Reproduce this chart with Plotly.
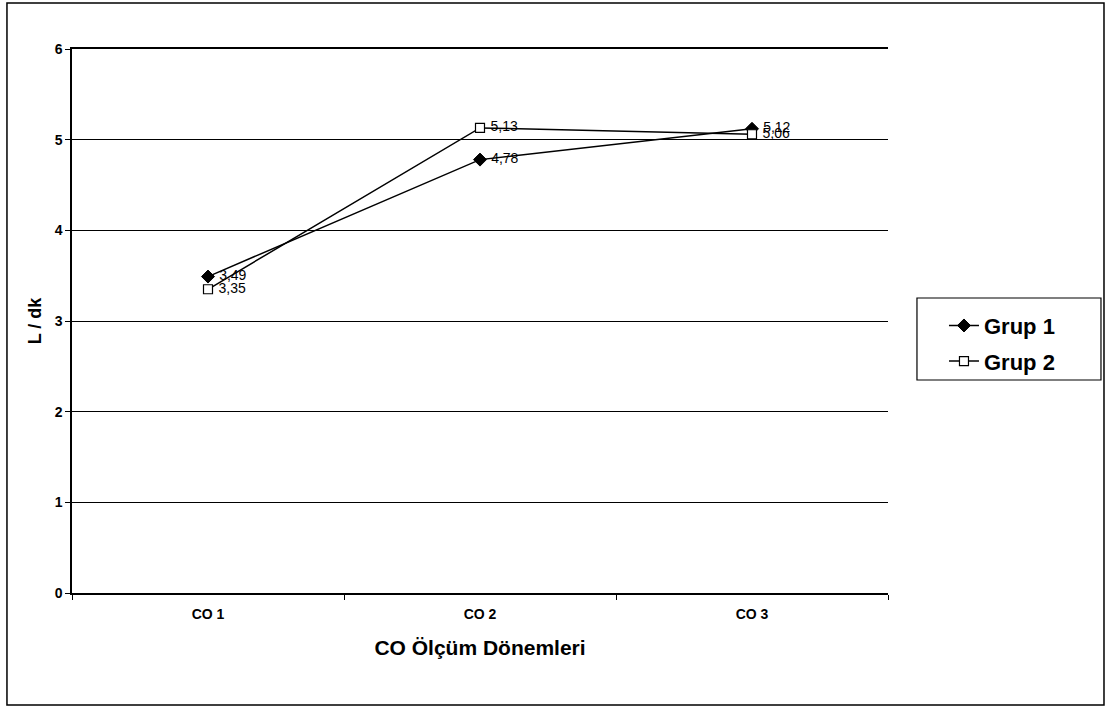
import plotly.graph_objects as go

periods = ["CO 1", "CO 2", "CO 3"]
grup1 = [3.49, 4.78, 5.12]
grup2 = [3.35, 5.13, 5.06]
y_ticks = [0, 1, 2, 3, 4, 5, 6]

FONT = "Liberation Sans, Arial, sans-serif"

fig = go.Figure()
fig.add_trace(go.Scatter(
    x=periods, y=grup1, name="Grup 1", legendgroup="g1", mode="lines+markers+text",
    line=dict(color="black", width=1.5),
    marker=dict(symbol="diamond", size=10, color="black", line=dict(color="black", width=1)),
    texttemplate=" %{y:.2f}", textposition="middle right",
    textfont=dict(family=FONT, size=14, color="black"),
))
fig.add_trace(go.Scatter(
    x=periods, y=grup2, name="Grup 2", legendgroup="g2", mode="lines+markers+text",
    line=dict(color="black", width=1.5),
    marker=dict(symbol="square", size=9, color="white", line=dict(color="black", width=1.2)),
    texttemplate=" %{y:.2f}", textposition="middle right",
    textfont=dict(family=FONT, size=14, color="black"),
))

fig.update_layout(
    width=1112, height=715,
    margin=dict(l=72, r=224, t=49, b=122),
    paper_bgcolor="white", plot_bgcolor="white",
    separators=",.",
    font=dict(family=FONT, color="black"),
    showlegend=True,
    legend=dict(
        x=1.0686, y=0.53, xanchor="left", yanchor="top",
        borderwidth=0, bgcolor="rgba(0,0,0,0)",
        font=dict(family=FONT, size=22, color="black", weight="bold"),
        tracegroupgap=4,
    ),
    xaxis=dict(
        type="category", range=[-0.5, 2.5],
        showgrid=False, showline=True, linecolor="black", linewidth=1.5, mirror=True,
        ticks="outside", ticklen=5, tickcolor="black", tickson="boundaries",
        ticklabelstandoff=7,
        tickfont=dict(family=FONT, size=14, weight="bold"),
        title=dict(text="CO Ölçüm Dönemleri", standoff=20,
                   font=dict(family=FONT, size=21, weight="bold")),
    ),
    yaxis=dict(
        range=[0, 6], tickvals=y_ticks,
        showgrid=True, gridcolor="black", gridwidth=1,
        showline=True, linecolor="black", linewidth=1.5,
        ticks="outside", ticklen=5, tickcolor="black",
        tickfont=dict(family=FONT, size=14, weight="bold"),
        zeroline=False,
        title=dict(text="L / dk", standoff=8,
                   font=dict(family=FONT, size=18, weight="bold")),
    ),
    shapes=[
        dict(type="rect", xref="paper", yref="paper",
             x0=-0.0797, x1=1.2647, y0=-0.2059, y1=1.0846,
             line=dict(color="black", width=1.5), fillcolor="rgba(0,0,0,0)"),
        dict(type="rect", xref="paper", yref="paper",
             x0=1.0355, x1=1.261, y0=0.3915, y1=0.5423,
             line=dict(color="black", width=1.2), fillcolor="rgba(0,0,0,0)"),
    ],
)

fig.write_html("out.html")
